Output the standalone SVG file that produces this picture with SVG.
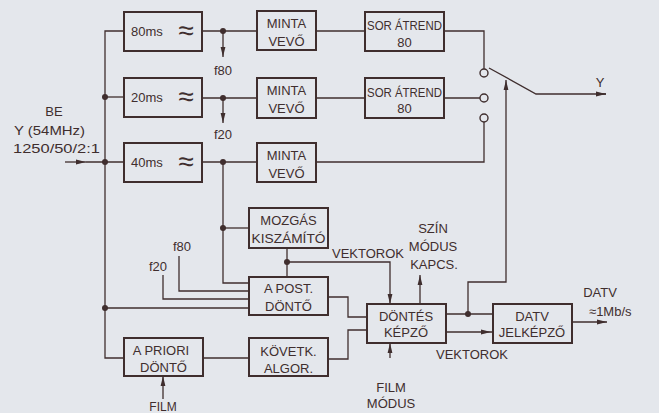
<svg xmlns="http://www.w3.org/2000/svg" width="659" height="413" viewBox="0 0 659 413">
<defs>
<style>
.bg{fill:#e4e7ec}
.box{fill:none;stroke:#3f2e2e;stroke-width:2}
.ln{fill:none;stroke:#3f2e2e;stroke-width:1.3}
.dot{fill:#3f2e2e}
.sw{fill:#e4e7ec;stroke:#3f2e2e;stroke-width:1.4}
text{font-family:"Liberation Sans","DejaVu Sans",sans-serif;font-size:13px;fill:#3f2e2e}
.c{text-anchor:middle}
.apx{font-size:28px}
</style>
<marker id="ah" markerUnits="userSpaceOnUse" markerWidth="10" markerHeight="6" refX="10" refY="3" orient="auto">
<path d="M0,0.6 L10,3 L0,5.4 Z" fill="#3f2e2e"/>
</marker>
</defs>
<rect class="bg" x="0" y="0" width="659" height="413"/>

<g id="input">
<text class="c" x="54" y="116">BE</text>
<text x="14" y="135" textLength="71" lengthAdjust="spacingAndGlyphs">Y (54MHz)</text>
<text x="13" y="153" textLength="87" lengthAdjust="spacingAndGlyphs">1250/50/2:1</text>
</g>

<g id="f80ms">
<rect class="box" x="124" y="12" width="78" height="39"/>
<text x="131" y="36">80ms</text>
<text class="c apx" x="186" y="40">≈</text>
</g>
<g id="f20ms">
<rect class="box" x="124" y="78" width="78" height="39"/>
<text x="131" y="102">20ms</text>
<text class="c apx" x="186" y="106">≈</text>
</g>
<g id="f40ms">
<rect class="box" x="124" y="143" width="78" height="39"/>
<text x="131" y="167">40ms</text>
<text class="c apx" x="186" y="171">≈</text>
</g>

<g id="minta1">
<rect class="box" x="257" y="11" width="59" height="39"/>
<text class="c" x="286.5" y="28">MINTA</text>
<text class="c" x="286.5" y="46">VEVŐ</text>
</g>
<g id="minta2">
<rect class="box" x="257" y="78" width="59" height="40"/>
<text class="c" x="286.5" y="95">MINTA</text>
<text class="c" x="286.5" y="113">VEVŐ</text>
</g>
<g id="minta3">
<rect class="box" x="257" y="143" width="59" height="39"/>
<text class="c" x="286.5" y="160">MINTA</text>
<text class="c" x="286.5" y="178">VEVŐ</text>
</g>

<g id="sor1">
<rect class="box" x="365" y="12" width="79" height="39"/>
<text class="c" x="404.5" y="30" textLength="75" lengthAdjust="spacingAndGlyphs">SOR ÁTREND</text>
<text class="c" x="404.5" y="47">80</text>
</g>
<g id="sor2">
<rect class="box" x="365" y="78" width="79" height="40"/>
<text class="c" x="404.5" y="97" textLength="75" lengthAdjust="spacingAndGlyphs">SOR ÁTREND</text>
<text class="c" x="404.5" y="113">80</text>
</g>

<g id="mozgas">
<rect class="box" x="249" y="208" width="79" height="40"/>
<text class="c" x="288.5" y="225">MOZGÁS</text>
<text class="c" x="288.5" y="243" textLength="74" lengthAdjust="spacingAndGlyphs">KISZÁMÍTÓ</text>
</g>
<g id="apost">
<rect class="box" x="249" y="277" width="79" height="38"/>
<text class="c" x="288.5" y="293">A POST.</text>
<text class="c" x="288.5" y="311">DÖNTŐ</text>
</g>
<g id="apriori">
<rect class="box" x="124" y="338" width="79" height="38"/>
<text class="c" x="161" y="355">A PRIORI</text>
<text class="c" x="163.5" y="372">DÖNTŐ</text>
</g>
<g id="kovetk">
<rect class="box" x="249" y="338" width="79" height="38"/>
<text class="c" x="288.5" y="356">KÖVETK.</text>
<text class="c" x="288.5" y="373">ALGOR.</text>
</g>
<g id="dontes">
<rect class="box" x="367" y="304" width="79" height="39"/>
<text class="c" x="406" y="321">DÖNTÉS</text>
<text class="c" x="406" y="337">KÉPZŐ</text>
</g>
<g id="datv">
<rect class="box" x="493" y="304" width="79" height="39"/>
<text class="c" x="532" y="321">DATV</text>
<text class="c" x="532" y="337">JELKÉPZŐ</text>
</g>

<g id="switch">
<circle class="sw" cx="484" cy="73" r="4"/>
<circle class="sw" cx="484" cy="98" r="4"/>
<circle class="sw" cx="484" cy="118" r="4"/>
</g>

<g id="labels">
<text class="c" x="223" y="75">f80</text>
<text class="c" x="223" y="139">f20</text>
<text class="c" x="182" y="251">f80</text>
<text class="c" x="158" y="271">f20</text>
<text class="c" x="368" y="258">VEKTOROK</text>
<text class="c" x="472" y="359">VEKTOROK</text>
<text class="c" x="433" y="233">SZÍN</text>
<text class="c" x="433" y="251">MÓDUS</text>
<text class="c" x="434" y="269">KAPCS.</text>
<text class="c" x="391" y="392">FILM</text>
<text class="c" x="391" y="408">MÓDUS</text>
<text class="c" x="163" y="411" style="font-size:12px">FILM</text>
<text class="c" x="600" y="87">Y</text>
<text class="c" x="600" y="297">DATV</text>
<text x="589" y="316">≈1Mb/s</text>
</g>

<g id="connectors">
<path class="ln" d="M65,162 H86" marker-end="url(#ah)"/>
<path class="ln" d="M86,162 H124"/>
<path class="ln" d="M124,31 H105 V358 H124"/>
<path class="ln" d="M105,97 H124"/>
<path class="ln" d="M105,308 H249"/>
<path class="ln" d="M202,31 H257"/>
<path class="ln" d="M202,98 H257"/>
<path class="ln" d="M202,162 H257"/>
<path class="ln" d="M223,31 V57" marker-end="url(#ah)"/>
<path class="ln" d="M223,98 V123" marker-end="url(#ah)"/>
<path class="ln" d="M223,162 V283 H249"/>
<path class="ln" d="M223,228 H249"/>
<path class="ln" d="M179,256 V291 H249"/>
<path class="ln" d="M163,275 V299 H249"/>
<path class="ln" d="M316,31 H365"/>
<path class="ln" d="M316,98 H365"/>
<path class="ln" d="M316,162 H484 V122"/>
<path class="ln" d="M444,31 H484 V69"/>
<path class="ln" d="M444,98 H480"/>
<path class="ln" d="M489,68 L536,94 H606"/>
<path class="ln" d="M596,94 H606" marker-end="url(#ah)"/>
<path class="ln" d="M468,314 V282 H506 V80" marker-end="url(#ah)"/>
<path class="ln" d="M287,248 V277"/>
<path class="ln" d="M287,262 H390 V304" marker-end="url(#ah)"/>
<path class="ln" d="M420,304 V275" marker-end="url(#ah)"/>
<path class="ln" d="M390,358 V343" marker-end="url(#ah)"/>
<path class="ln" d="M328,297 H348 V317 H367"/>
<path class="ln" d="M328,359 H348 V330 H367"/>
<path class="ln" d="M203,358 H249"/>
<path class="ln" d="M163,399 V376" marker-end="url(#ah)"/>
<path class="ln" d="M446,314 H493"/>
<path class="ln" d="M446,332 H491" marker-end="url(#ah)"/>
<path class="ln" d="M491,332 H493"/>
<path class="ln" d="M572,322 H607" marker-end="url(#ah)"/>
<circle class="dot" cx="105" cy="97" r="3"/>
<circle class="dot" cx="105" cy="162" r="3"/>
<circle class="dot" cx="105" cy="308" r="3"/>
<circle class="dot" cx="223" cy="31" r="3"/>
<circle class="dot" cx="223" cy="98" r="3"/>
<circle class="dot" cx="223" cy="162" r="3"/>
<circle class="dot" cx="223" cy="228" r="3"/>
<circle class="dot" cx="287" cy="262" r="3"/>
<circle class="dot" cx="468" cy="314" r="3"/>
</g>
</svg>
